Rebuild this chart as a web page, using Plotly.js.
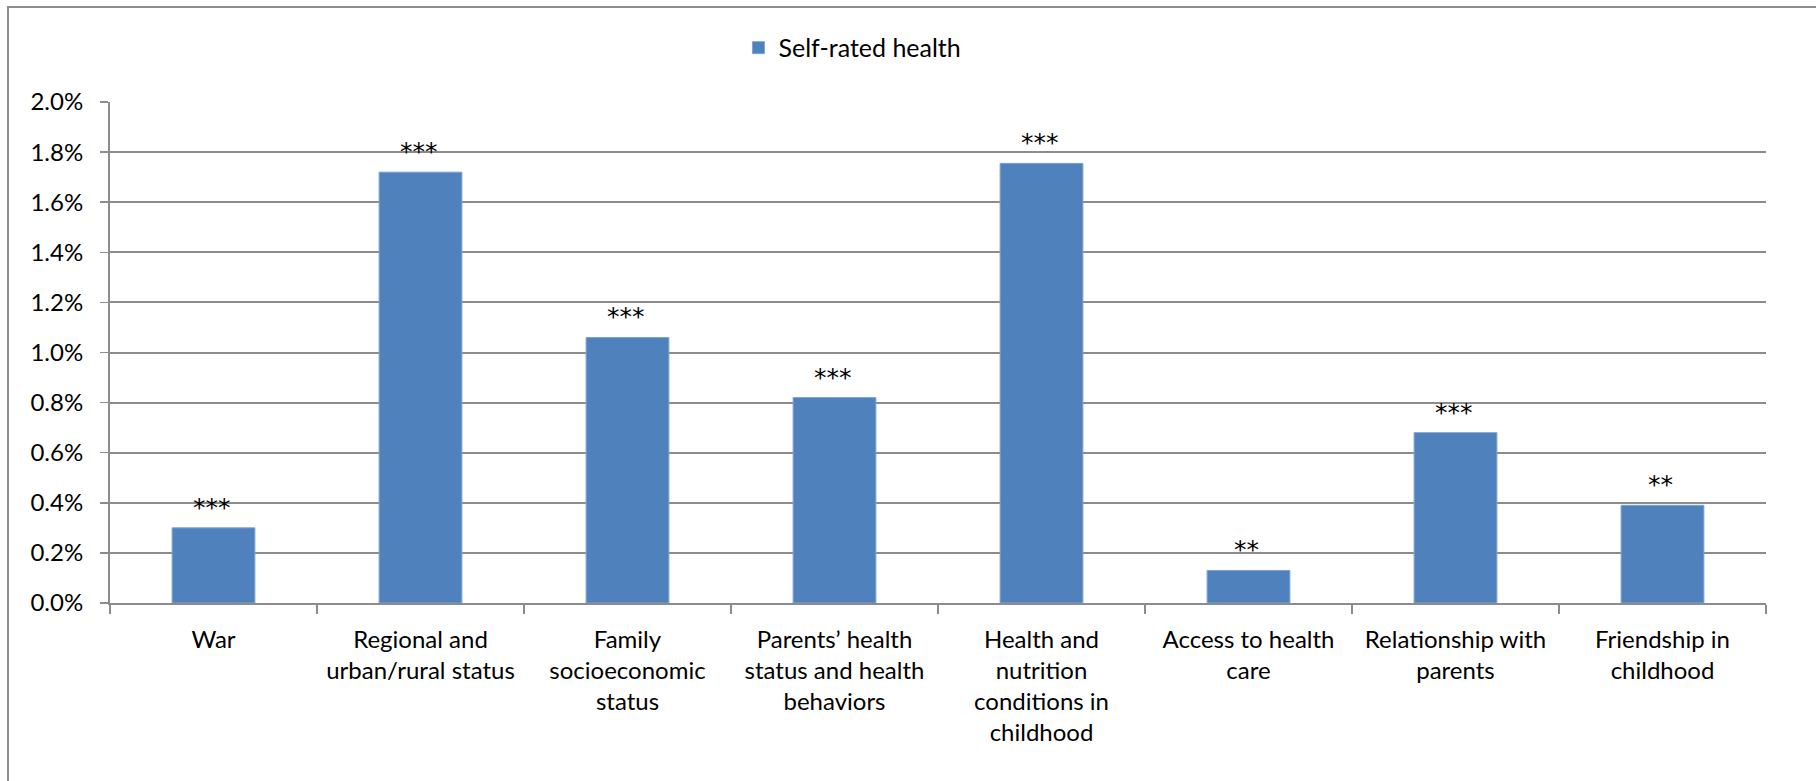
<!DOCTYPE html>
<html>
<head>
<meta charset="utf-8">
<script src="https://cdn.plot.ly/plotly-3.0.1.min.js"></script>
<style>
  html, body { margin: 0; padding: 0; background: #fff; }
  #chart { width: 1816px; height: 781px; }
</style>
</head>
<body>
<div id="chart"></div>
<script>
const categories = [
  "War",
  "Regional and<br>urban/rural status",
  "Family<br>socioeconomic<br>status",
  "Parents’ health<br>status and health<br>behaviors",
  "Health and<br>nutrition<br>conditions in<br>childhood",
  "Access to health<br>care",
  "Relationship with<br>parents",
  "Friendship in<br>childhood"
];
const selfRatedHealth = [0.0030, 0.0172, 0.0106, 0.0082, 0.01755, 0.0013, 0.0068, 0.0039];
const significance = ["***", "***", "***", "***", "***", "**", "***", "**"];
const seriesName = "Self-rated health";

const FONT = "Lato, 'Open Sans', sans-serif";
const GRID = "#8c8c8c";

const trace = {
  type: "bar",
  x: categories,
  y: selfRatedHealth,
  name: seriesName,
  marker: { color: "#4F81BD", line: { color: "#7fa3d0", width: 1 } },
  showlegend: true,
  hoverinfo: "skip"
};

const annotations = categories.map((c, i) => ({
  x: c, y: selfRatedHealth[i], xref: "x", yref: "y",
  text: significance[i], showarrow: false,
  yanchor: "bottom", yshift: 4, xshift: -2,
  font: { family: "'DejaVu Sans', sans-serif", size: 25, color: "#000" }
}));

const layout = {
  width: 1816, height: 781,
  margin: { l: 110, r: 50, t: 102, b: 178 },
  paper_bgcolor: "#fff", plot_bgcolor: "#fff",
  font: { family: FONT, size: 24, color: "#000" },
  bargap: 0.6,
  showlegend: true,
  legend: {
    orientation: "h", x: 0.3795, xanchor: "left", y: 1.108, yanchor: "middle",
    font: { family: FONT, size: 25, color: "#000" },
    bgcolor: "rgba(0,0,0,0)"
  },
  xaxis: {
    type: "category",
    showline: true, linecolor: GRID, linewidth: 2,
    ticks: "outside", tickson: "boundaries", ticklen: 9, tickcolor: GRID, tickwidth: 1.5,
    showgrid: false, ticklabelstandoff: 14,
    tickfont: { family: FONT, size: 24, color: "#000" }
  },
  yaxis: {
    range: [0, 0.02], dtick: 0.002, tick0: 0, tickformat: ".1%",
    showline: true, linecolor: GRID, linewidth: 2,
    ticks: "outside", ticklen: 8, tickcolor: GRID, tickwidth: 1.5,
    showgrid: true, gridcolor: GRID, gridwidth: 2,
    zeroline: false, ticklabelstandoff: 12,
    tickfont: { family: FONT, size: 24, color: "#000" }
  },
  annotations: annotations,
  shapes: [{
    type: "rect", xref: "paper", yref: "paper",
    x0: (8 - 110) / 1656, x1: 1.2, y0: -0.5, y1: (603 - 7) / 501,
    line: { color: "#8c8c8c", width: 2 }, fillcolor: "rgba(0,0,0,0)", layer: "below"
  }]
};

Plotly.newPlot("chart", [trace], layout, { displayModeBar: false, staticPlot: true });
</script>
</body>
</html>
